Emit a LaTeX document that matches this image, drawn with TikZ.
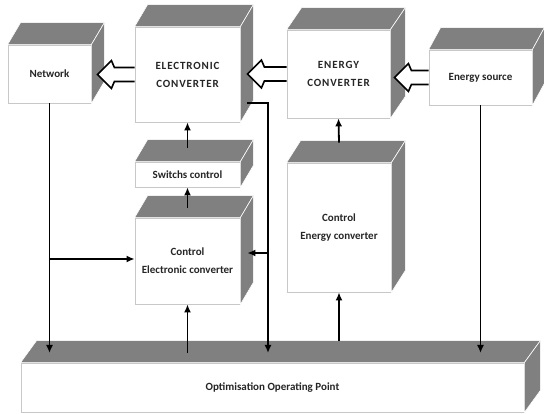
\documentclass[tikz,border=0pt]{standalone}
\usepackage{fontspec}
\setmainfont{Carlito}
\usetikzlibrary{arrows.meta}
\definecolor{boxgray}{RGB}{128,128,128}
\definecolor{edgegray}{RGB}{200,200,200}

\begin{document}
\begin{tikzpicture}[x=1pt,y=-1pt]
	\tikzstyle{every node}=[font=\fontsize{11}{18}\selectfont\bfseries,text=black!85,align=center]
	\tikzstyle{caps}=[font=\fontsize{11}{18}\selectfont\bfseries\addfontfeatures{LetterSpace=8}]
	\tikzstyle{box}=[draw=edgegray,line width=0.8pt,fill=white,inner sep=0pt]
	\tikzstyle{face}=[fill=boxgray,draw=white,line width=0.6pt]
	\tikzstyle{flow}=[fill=white,line width=1.6pt,line join=miter,
		to path={([yshift=-7pt]\tikztostart) -- ([xshift=17pt,yshift=-7pt]\tikztotarget)
			-- ([xshift=14pt,yshift=-14pt]\tikztotarget) -- (\tikztotarget)
			-- ([xshift=14pt,yshift=14pt]\tikztotarget) -- ([xshift=17pt,yshift=7pt]\tikztotarget)
			-- ([yshift=7pt]\tikztostart)}]
	\tikzstyle{sig}=[line width=1.8pt,-{Latex[length=8pt,width=7pt]}]
	\useasboundingbox (0,0) rectangle (544,414);

	\node[box,minimum width=83pt,minimum height=58pt] (net) at (49.5,74) {Network};
	\node[box,caps,minimum width=105pt,minimum height=95pt] (elec) at (187.5,74.5) {ELECTRONIC\\CONVERTER};
	\node[box,caps,minimum width=103pt,minimum height=88pt] (econv) at (338.5,74) {ENERGY\\CONVERTER};
	\node[box,minimum width=103pt,minimum height=55pt] (src) at (480.5,77.5) {Energy source};
	\node[box,minimum width=105pt,minimum height=25pt] (sw) at (187.5,174.5) {Switchs control};
	\node[box,minimum width=105pt,minimum height=86pt] (ctle) at (187.5,261) {Control\\Electronic converter};
	\node[box,minimum width=104pt,minimum height=129pt] (ctlen) at (339,227.5) {Control\\Energy converter};
	\node[box,minimum width=503pt,minimum height=49pt] (opt) at (272.5,387.5) {Optimisation Operating Point};

	\foreach \b/\d in {net/13,elec/13,econv/15,src/12,sw/13,ctle/13,ctlen/14,opt/16} {
		\fill[face] (\b.north west) -- ([shift={(\d,-22)}]\b.north west)
			-- ([shift={(\d,-22)}]\b.north east) -- (\b.north east) -- cycle;
		\fill[face] (\b.north east) -- ([shift={(\d,-22)}]\b.north east)
			-- ([shift={(\d,-22)}]\b.south east) -- (\b.south east) -- cycle;
	}

	\coordinate (busIn) at (0,353);
	\coordinate (busOut) at (0,341);
	\coordinate (elecOut) at (247,103);
	\coordinate (tapR) at (268,253);
	\coordinate (tapL) at (49.5,259);
	\coordinate (tipNet) at ([xshift=6pt]elec.west -| net.east);
	\coordinate (tipElec) at ([xshift=7pt]econv.west -| elec.east);
	\coordinate (tipConv) at ([xshift=4pt]src.west -| econv.east);

	\draw[flow] (src.west) to (tipConv);
	\draw[flow] (econv.west) to (tipElec);
	\draw[flow] (elec.west) to (tipNet);

	\draw[sig] (net.south) -- (net.south |- busIn);
	\draw[sig] (tapL) -- (tapL -| ctle.west);
	\draw[sig] ([yshift=10pt]ctle.north) -- (sw.south);
	\draw[sig] ([yshift=14pt]sw.north) -- (elec.south);
	\draw[sig] (ctle.south |- busIn) -- (ctle.south);
	\draw[sig] (elecOut) -| (tapR |- busIn);
	\draw[sig] (tapR) -- ([xshift=7pt]tapR -| ctle.east);
	\draw[sig] ([yshift=20pt]ctlen.north) -- (econv.south);
	\draw[sig] (ctlen.south |- busOut) -- (ctlen.south);
	\draw[sig] (src.south) -- (src.south |- busIn);
\end{tikzpicture}
\end{document}
